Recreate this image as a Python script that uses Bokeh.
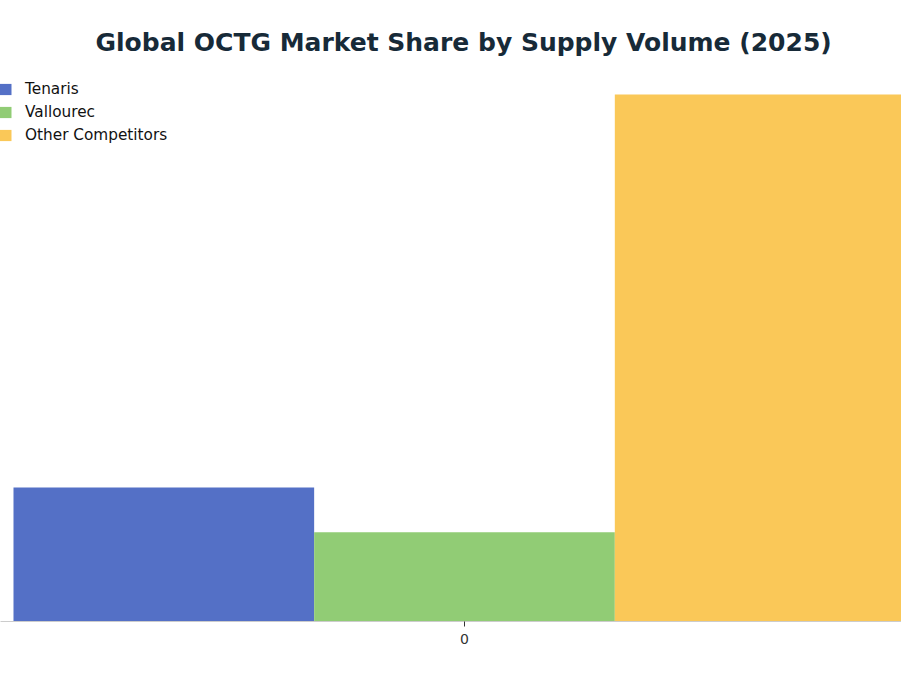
from bokeh.plotting import figure
from bokeh.models import Range1d, FixedTicker, Legend, LegendItem, Title
from bokeh.transform import dodge
from bokeh.embed import file_html
from bokeh.resources import INLINE

# data
companies = ["Tenaris", "Vallourec", "Other Competitors"]
shares = [15, 10, 59]
colors = ["#5470c6", "#91cc75", "#fac858"]
category = [0]
tick_labels = {0: "0"}

bar_w = 1 / 3

p = figure(width=901, height=668, output_backend="svg", toolbar_location=None,
           x_range=Range1d(-0.5144, 0.4845), y_range=Range1d(0, 61.7),
           min_border_left=0, min_border_right=0, min_border_top=70, min_border_bottom=47)

p.title = Title(text="Global OCTG Market Share by Supply Volume (2025)", align="left",
                text_font="DejaVu Sans", text_font_size="25px", text_font_style="bold",
                text_color="#172a38", offset=95, standoff=27)

items = []
for i, (name, val, col) in enumerate(zip(companies, shares, colors)):
    r = p.vbar(x=dodge("x", (i - 1) * bar_w), top="top", width=bar_w, bottom=0,
               source=dict(x=category, top=[val]), fill_color=col, line_color=None)
    items.append(LegendItem(label=name, renderers=[r]))

legend = Legend(items=items, location=(-7, 476), orientation="vertical",
                glyph_width=20, glyph_height=14, label_standoff=12, label_height=20,
                spacing=3, padding=0, margin=0, border_line_color=None,
                background_fill_alpha=0, label_text_font="DejaVu Sans",
                label_text_font_size="15.3px", label_text_color="#111111")
p.add_layout(legend)

p.yaxis.visible = False
p.xgrid.visible = False
p.ygrid.visible = False
p.outline_line_color = None

ax = p.xaxis[0]
ax.ticker = FixedTicker(ticks=category)
ax.major_label_overrides = tick_labels
ax.axis_line_color = "#cccccc"
ax.major_tick_line_color = "#333333"
ax.major_tick_in = 0
ax.major_tick_out = 5
ax.minor_tick_line_color = None
ax.major_label_text_font = "DejaVu Sans"
ax.major_label_text_font_size = "14px"
ax.major_label_text_color = "#333333"
ax.major_label_standoff = 7

open("out.html", "w").write(file_html(p, INLINE))
